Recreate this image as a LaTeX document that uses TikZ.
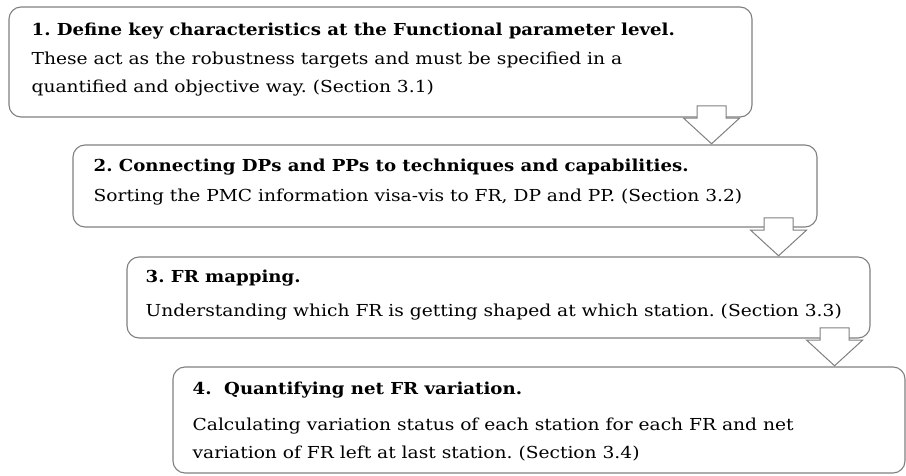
\documentclass[tikz,border=0pt]{standalone}
\usepackage{fontspec}
\setmainfont{DejaVu Serif}[FakeStretch=1.13]
\newfontfamily\headfont{DejaVu Serif}[FakeStretch=1.10]
\usetikzlibrary{positioning, calc, shapes.arrows}
\definecolor{edgegray}{RGB}{128,128,128}
\tikzset{>=stealth}
\frenchspacing

\begin{document}
\begin{tikzpicture}[x=1pt, y=-1pt,
    stepbox/.style={draw=edgegray, line width=1.1pt, rounded corners=12pt, fill=white, inner sep=0pt},
    steptitle/.style={anchor=base west, inner sep=0pt, font=\fontsize{16.5}{28}\selectfont\headfont\bfseries},
    steptext/.style={anchor=base west, inner sep=0pt, align=left, font=\fontsize{16.5}{28}\selectfont},
    downarrow/.style={single arrow, draw=edgegray, fill=white, line width=1pt, rotate=-90,
        minimum height=38pt, inner xsep=0pt, inner ysep=14pt, single arrow head extend=13.5pt,
        single arrow tip angle=95}]
    \useasboundingbox (0,0) rectangle (906,476);
    % the four steps
    \node[stepbox, minimum width=743pt, minimum height=110pt] (box1) at (380.5,62) {};
    \node[stepbox, minimum width=744pt, minimum height=82pt] (box2) at (445,186) {};
    \node[stepbox, minimum width=743pt, minimum height=81pt] (box3) at (498.5,297.5) {};
    \node[stepbox, minimum width=732pt, minimum height=106pt] (box4) at (539,420) {};
    
    \node[steptitle] (title1) at ([xshift=23pt, yshift=-29pt]box1.north west) {1. Define key characteristics at the Functional parameter level.};
    \node[steptext] (text1) at ([xshift=23pt, yshift=-86pt]box1.north west) {These act as the robustness targets and must be specified in a\\quantified and objective way. (Section 3.1)};
    
    \node[steptitle] (title2) at ([xshift=21pt, yshift=-27pt]box2.north west) {2. Connecting DPs and PPs to techniques and capabilities.};
    \node[steptext] (text2) at ([xshift=21pt, yshift=-57pt]box2.north west) {Sorting the PMC information visa-vis to FR, DP and PP. (Section 3.2)};
    
    \node[steptitle] (title3) at ([xshift=19pt, yshift=-26pt]box3.north west) {3. FR mapping.};
    \node[steptext] (text3) at ([xshift=19pt, yshift=-60pt]box3.north west) {Understanding which FR is getting shaped at which station. (Section 3.3)};
    
    \node[steptitle] (title4) at ([xshift=20pt, yshift=-28pt]box4.north west) {4.\ \ Quantifying net FR variation.};
    \node[steptext] (text4) at ([xshift=20pt, yshift=-92pt]box4.north west) {Calculating variation status of each station for each FR and net\\variation of FR left at last station. (Section 3.4)};
    
    % block arrows between the steps
    \node[downarrow, anchor=tip] (arrow1) at ([xshift=-41pt]box1.south east |- box2.north) {};
    \node[downarrow, anchor=tip] (arrow2) at ([xshift=-39pt]box2.south east |- box3.north) {};
    \node[downarrow, anchor=tip] (arrow3) at ([xshift=-36pt]box3.south east |- box4.north) {};
\end{tikzpicture}
\end{document}
